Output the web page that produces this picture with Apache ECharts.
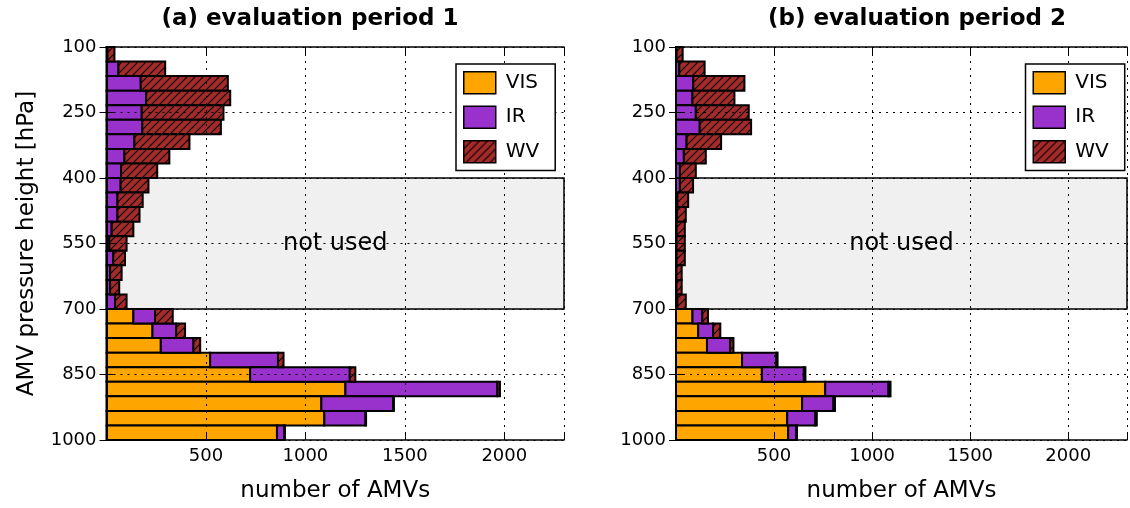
<!DOCTYPE html>
<html><head><meta charset="utf-8">
<script src="https://cdn.jsdelivr.net/npm/echarts@6/dist/echarts.min.js"></script>
<style>html,body{margin:0;padding:0;background:#fff}#chart{width:1130px;height:508px}</style>
</head><body><div id="chart"></div>
<script>
// ---- data ----
const pressureEdges = [100, 133.333, 166.667, 200, 233.333, 266.667, 300, 333.333, 366.667, 400,
  433.333, 466.667, 500, 533.333, 566.667, 600, 633.333, 666.667, 700,
  733.333, 766.667, 800, 833.333, 866.667, 900, 933.333, 966.667, 1000];
const categories = ['VIS', 'IR', 'WV'];
const panelTitles = ['(a) evaluation period 1', '(b) evaluation period 2'];
const xTickLabels = [500, 1000, 1500, 2000];
const yTickLabels = [100, 250, 400, 550, 700, 850, 1000];
const notUsedRange = [400, 700];

// period 1 (bins from 100 hPa downward)
const visP1 = [0,0,0,0,0,0,0,0,0, 0,0,0,0,0,0,0,0,0, 135,231,273,521,722,1201,1080,1095,857];
const irP1  = [5,60,172,199,177,180,140,90,73, 71,55,55,26,14,34,18,18,43, 109,119,164,341,501,764,361,207,37];
const wvP1  = [35,235,438,423,411,395,277,226,182, 140,127,111,109,87,59,58,46,58, 89,45,34,28,28,13,4,3,3];
// period 2
const visP2 = [0,0,0,0,0,0,0,0,0, 0,0,0,0,0,0,0,0,0, 84,113,158,337,438,761,643,567,572];
const irP2  = [3,17,88,84,101,121,54,40,20, 20,7,5,3,3,3,2,2,7, 50,76,118,175,214,323,160,144,40];
const wvP2  = [31,129,261,214,270,262,176,112,81, 67,55,45,42,42,42,27,27,43, 29,37,17,6,8,10,8,7,5];

// ---- styles ----
const FONT = 'DejaVu Sans';
const colors = { VIS: '#FFA500', IR: '#9932CC', WV: '#A52A2A' };

function hatchPattern() {
  const c = document.createElement('canvas');
  const s = 8; c.width = s; c.height = s;
  const ctx = c.getContext('2d');
  ctx.fillStyle = colors.WV; ctx.fillRect(0, 0, s, s);
  ctx.strokeStyle = '#000'; ctx.lineWidth = 1.1;
  ctx.beginPath();
  ctx.moveTo(0, s); ctx.lineTo(s, 0);
  ctx.moveTo(-2, 2); ctx.lineTo(2, -2);
  ctx.moveTo(s - 2, s + 2); ctx.lineTo(s + 2, s - 2);
  ctx.stroke();
  return { image: c, repeat: 'repeat' };
}
const wvFill = hatchPattern();
const fills = { VIS: colors.VIS, IR: colors.IR, WV: wvFill };

function stackedData(vis, ir, wv) {
  const out = { VIS: [], IR: [], WV: [] };
  for (let i = 0; i < vis.length; i++) {
    const p0 = pressureEdges[i], p1 = pressureEdges[i + 1];
    const a = vis[i], b = a + ir[i], c = b + wv[i];
    out.VIS.push([p0, p1, 0, a]);
    out.IR.push([p0, p1, a, b]);
    out.WV.push([p0, p1, b, c]);
  }
  return out;
}
const panels = [stackedData(visP1, irP1, wvP1), stackedData(visP2, irP2, wvP2)];

function makeRender(fill) {
  return function (params, api) {
    const p0 = api.value(0), p1 = api.value(1), x0 = api.value(2), x1 = api.value(3);
    if (!(x1 > x0)) return null;
    const a = api.coord([x0, p0]);
    const b = api.coord([x1, p1]);
    return {
      type: 'rect',
      shape: { x: a[0], y: Math.min(a[1], b[1]), width: b[0] - a[0], height: Math.abs(b[1] - a[1]) },
      style: { fill: fill, stroke: '#000', lineWidth: 2 }
    };
  };
}

const grids = [
  { left: 106.5, top: 47, width: 457.5, height: 395 },
  { left: 676, top: 47, width: 456, height: 395 }
];
const titleCenters = [310, 917];
const legendLefts = [456, 1025.5];

const xAxes = [], yAxes = [], series = [], titles = [], legends = [];
const gridSplit = { show: true, lineStyle: { color: '#000', width: 1, type: [2, 5] } };
const axisLine = { show: true, lineStyle: { color: '#000', width: 1.5 } };
const tick = { show: true, inside: true, length: 7, lineStyle: { color: '#000', width: 1 } };

panels.forEach((pd, k) => {
  // bottom x axis
  xAxes.push({
    type: 'value', gridIndex: k, min: 0, max: 2300, interval: 500, position: 'bottom', z: 5,
    name: 'number of AMVs', nameLocation: 'middle', nameGap: 40,
    nameTextStyle: { fontFamily: FONT, fontSize: 23, color: '#000' },
    axisLine: axisLine, axisTick: tick, splitLine: gridSplit,
    axisLabel: { fontFamily: FONT, fontSize: 18, color: '#000', margin: 7,
      formatter: v => xTickLabels.includes(v) ? String(v) : '' }
  });
  // top x axis (frame + ticks)
  xAxes.push({
    type: 'value', gridIndex: k, min: 0, max: 2300, interval: 500, position: 'top', z: 5,
    axisLine: axisLine, axisTick: tick, splitLine: { show: false }, axisLabel: { show: false }
  });
  // left y axis
  yAxes.push({
    type: 'value', gridIndex: k, min: 100, max: 1000, interval: 150, inverse: true, position: 'left', z: 5,
    name: k === 0 ? 'AMV pressure height [hPa]' : '', nameLocation: 'middle', nameGap: 68,
    nameTextStyle: { fontFamily: FONT, fontSize: 23, color: '#000' },
    axisLine: axisLine, axisTick: tick, splitLine: gridSplit,
    axisLabel: { fontFamily: FONT, fontSize: 18, color: '#000', margin: 10,
      formatter: v => yTickLabels.includes(v) ? String(v) : '' }
  });
  // right y axis (frame + ticks)
  yAxes.push({
    type: 'value', gridIndex: k, min: 100, max: 1000, interval: 150, inverse: true, position: 'right', z: 5,
    axisLine: axisLine, axisTick: tick, splitLine: { show: false }, axisLabel: { show: false }
  });

  const xi = k * 2, yi = k * 2;
  // "not used" band
  series.push({
    type: 'line', xAxisIndex: xi, yAxisIndex: yi, data: [], z: 1, silent: true,
    markArea: {
      silent: true,
      itemStyle: { color: '#F0F0F0', borderColor: '#000', borderWidth: 1.5 },
      label: { show: true, position: 'inside', formatter: 'not used', fontFamily: FONT, fontSize: 24, color: '#000' },
      data: [[{ yAxis: notUsedRange[0] }, { yAxis: notUsedRange[1] }]]
    }
  });
  categories.forEach(name => {
    series.push({
      type: 'custom', name: name, xAxisIndex: xi, yAxisIndex: yi, z: 2,
      itemStyle: { color: fills[name], borderColor: '#000', borderWidth: 1.5 },
      encode: { x: [2, 3], y: [0, 1] },
      renderItem: makeRender(fills[name]),
      data: pd[name]
    });
  });

  titles.push({
    text: panelTitles[k], left: titleCenters[k], textAlign: 'center', top: 8, padding: 0,
    textStyle: { fontFamily: FONT, fontSize: 23, fontWeight: 'bold', color: '#000' }
  });
  legends.push({
    left: legendLefts[k], top: 64, orient: 'vertical', icon: 'rect',
    itemWidth: 32, itemHeight: 22, itemGap: 11, padding: [7, 16, 7, 7],
    borderColor: '#000', borderWidth: 1.5, backgroundColor: '#fff', z: 10,
    textStyle: { fontFamily: FONT, fontSize: 20, color: '#000', padding: [0, 0, 0, 5] },
    itemStyle: { borderColor: '#000', borderWidth: 1.5 },
    data: categories.map(n => ({ name: n, itemStyle: { color: fills[n], borderColor: '#000', borderWidth: 1.5 } }))
  });
});

const chart = echarts.init(document.getElementById('chart'), null, { renderer: 'canvas' });
chart.setOption({
  animation: false,
  backgroundColor: '#fff',
  title: titles,
  legend: legends,
  grid: grids,
  xAxis: xAxes,
  yAxis: yAxes,
  series: series
});
</script></body></html>
